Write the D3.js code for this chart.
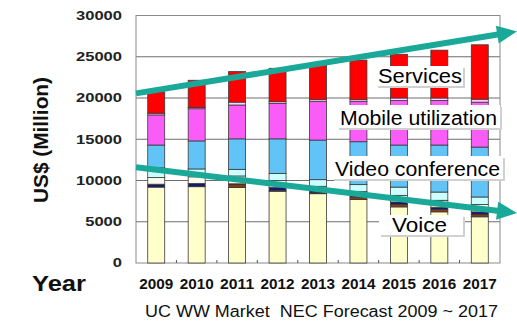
<!DOCTYPE html>
<html>
<head>
<meta charset="utf-8">
<script src="https://cdn.jsdelivr.net/npm/d3@7"></script>
<style>
  body { margin: 0; background: #fff; }
  svg { display: block; font-family: "Liberation Sans", Arial, sans-serif; }
</style>
</head>
<body>
<div id="chart"></div>
<script>
const years = ["2009", "2010", "2011", "2012", "2013", "2014", "2015", "2016", "2017"];

// stacked segments, bottom to top (US$ million)
const voice   = [9200, 9250, 9150, 8700, 8400, 7700, 6800, 6200, 5600];
const brown   = [0, 0, 350, 100, 100, 300, 300, 300, 300];
const navy    = [350, 400, 100, 350, 400, 150, 300, 250, 300];
const pale    = [800, 800, 950, 850, 400, 500, 800, 850, 900];
const cyan    = [1200, 950, 800, 850, 800, 850, 1000, 1000, 900];
const video   = [2750, 3400, 3700, 4200, 4800, 5200, 5100, 5700, 6050];
const mobile  = [3650, 3900, 4100, 4300, 4700, 4900, 5400, 5400, 5450];
const pink    = [200, 150, 350, 200, 200, 200, 300, 300, 350];
const service = [2600, 3300, 3700, 4050, 4200, 4800, 5300, 5800, 6600];

const yTicks = [0, 5000, 10000, 15000, 20000, 25000, 30000];
const segLabels = ["Services", "Mobile utilization", "Video conference", "Voice"];

const keys = ["voice", "brown", "navy", "pale", "cyan", "video", "mobile", "pink", "service"];
const colors = {
  voice: "#ffffcc", brown: "#8b3a10", navy: "#1c1670", pale: "#fbfbee",
  cyan: "#ccffff", video: "#62c3f6", mobile: "#fa5cf8", pink: "#ffd2ff", service: "#ff0000"
};
const series = { voice, brown, navy, pale, cyan, video, mobile, pink, service };
const rows = years.map((yr, i) => {
  const r = { year: yr };
  keys.forEach(k => r[k] = series[k][i]);
  return r;
});

const W = 517, H = 330;
const pLeft = 136, pRight = 500, pTop = 15.5, pBottom = 263;

const svg = d3.select("#chart").append("svg")
  .attr("width", W).attr("height", H);

const x = d3.scaleBand().domain(years).range([pLeft, pRight])
  .paddingInner(0.58).paddingOuter(0.29);
const y = d3.scaleLinear().domain([0, 30000]).range([pBottom, pTop]);

// gridlines
svg.append("g").selectAll("line")
  .data(yTicks.filter(d => d > 0 && d < 30000))
  .enter().append("line")
  .attr("x1", pLeft).attr("x2", pRight)
  .attr("y1", d => y(d)).attr("y2", d => y(d))
  .attr("stroke", "#6e6e6e").attr("stroke-width", 1);

// plot frame
svg.append("rect")
  .attr("x", pLeft).attr("y", pTop)
  .attr("width", pRight - pLeft).attr("height", pBottom - pTop)
  .attr("fill", "none").attr("stroke", "#8a8a8a").attr("stroke-width", 1);

// bars
const stack = d3.stack().keys(keys)(rows);
svg.append("g").selectAll("g")
  .data(stack)
  .enter().append("g")
  .attr("fill", d => colors[d.key])
  .selectAll("rect")
  .data(d => d)
  .enter().append("rect")
  .attr("x", d => x(d.data.year))
  .attr("width", x.bandwidth())
  .attr("y", d => y(d[1]))
  .attr("height", d => y(d[0]) - y(d[1]))
  .attr("stroke", "#3a3a3a").attr("stroke-width", 0.8);

// small ticks between categories
svg.append("g").selectAll("line")
  .data(years.slice(1))
  .enter().append("line")
  .attr("x1", d => x(d) - x.step() * x.paddingInner() / 2)
  .attr("x2", d => x(d) - x.step() * x.paddingInner() / 2)
  .attr("y1", pBottom).attr("y2", pBottom - 3)
  .attr("stroke", "#555");

// y axis labels
const yAxis = svg.append("g")
  .attr("transform", `translate(${pLeft},0)`)
  .call(d3.axisLeft(y).tickValues(yTicks).tickFormat(d3.format("d")).tickSize(0).tickPadding(14));
yAxis.select(".domain").remove();
yAxis.selectAll("text")
  .attr("font-size", 12).attr("font-weight", "bold").attr("fill", "#222")
  .attr("font-family", "'Liberation Sans', Arial, sans-serif")
  .attr("textLength", function() { return this.textContent.length * 9.2; })
  .attr("lengthAdjust", "spacingAndGlyphs");

// x axis labels
const xAxis = svg.append("g")
  .attr("transform", `translate(0,${pBottom})`)
  .call(d3.axisBottom(x).tickSize(0).tickPadding(16));
xAxis.select(".domain").remove();
xAxis.selectAll("text")
  .attr("font-size", 14).attr("font-weight", "bold").attr("fill", "#111")
  .attr("font-family", "'Liberation Sans', Arial, sans-serif")
  .attr("textLength", 34).attr("lengthAdjust", "spacingAndGlyphs");

// axis titles
svg.append("text")
  .attr("transform", "translate(48,140) rotate(-90)")
  .attr("text-anchor", "middle")
  .attr("font-size", 20).attr("font-weight", "bold").attr("fill", "#111")
  .attr("textLength", 126).attr("lengthAdjust", "spacingAndGlyphs")
  .text("US$ (Million)");

svg.append("text")
  .attr("x", 32).attr("y", 291)
  .attr("font-size", 22).attr("font-weight", "bold").attr("fill", "#111")
  .attr("textLength", 54).attr("lengthAdjust", "spacingAndGlyphs")
  .text("Year");

svg.append("text")
  .attr("x", 145).attr("y", 317)
  .attr("font-size", 16).attr("fill", "#111")
  .attr("textLength", 353).attr("lengthAdjust", "spacingAndGlyphs")
  .style("white-space", "pre")
  .text("UC WW Market  NEC Forecast 2009 ~ 2017");

// trend arrows (in data units at the plot's left edge and the picture's right edge)
const arrows = [
  { from: 20560, to: 28070 },
  { from: 11610, to: 6050 }
];
const tipX = 517;
arrows.forEach(a => {
  const x0 = pLeft, y0 = y(a.from), y1 = y(a.to);
  const ang = Math.atan2(y1 - y0, tipX - x0);
  const len = 20, half = 9;
  const bx = tipX - len * Math.cos(ang), by = y1 - len * Math.sin(ang);
  svg.append("line")
    .attr("x1", x0).attr("y1", y0).attr("x2", bx + 2 * Math.cos(ang)).attr("y2", by + 2 * Math.sin(ang))
    .attr("stroke", "#1aa998").attr("stroke-width", 6);
  const px = -Math.sin(ang), py = Math.cos(ang);
  svg.append("path")
    .attr("d", `M${tipX},${y1} L${bx + half * px},${by + half * py} L${bx - half * px},${by - half * py} Z`)
    .attr("fill", "#1aa998");
});

// segment labels in white boxes
const boxes = [
  { bx: 376, by: 66, bw: 87, bh: 20, tx: 378, ty: 83, tw: 84 },
  { bx: 337, by: 105, bw: 163, bh: 23, tx: 340, ty: 125, tw: 157 },
  { bx: 332, by: 156, bw: 171, bh: 23, tx: 335, ty: 176, tw: 165 },
  { bx: 379, by: 215, bw: 84, bh: 20, tx: 392, ty: 232, tw: 55 }
];
const lab = svg.append("g").selectAll("g")
  .data(segLabels)
  .enter().append("g");
lab.append("rect")
  .attr("x", (d, i) => boxes[i].bx + 2).attr("y", (d, i) => boxes[i].by + 2)
  .attr("width", (d, i) => boxes[i].bw).attr("height", (d, i) => boxes[i].bh)
  .attr("fill", "#d0d0d0");
lab.append("rect")
  .attr("x", (d, i) => boxes[i].bx).attr("y", (d, i) => boxes[i].by)
  .attr("width", (d, i) => boxes[i].bw).attr("height", (d, i) => boxes[i].bh)
  .attr("fill", "#fff");
lab.append("text")
  .attr("x", (d, i) => boxes[i].tx).attr("y", (d, i) => boxes[i].ty)
  .attr("font-size", 20).attr("fill", "#000")
  .attr("textLength", (d, i) => boxes[i].tw).attr("lengthAdjust", "spacingAndGlyphs")
  .text(d => d);
</script>
</body>
</html>
